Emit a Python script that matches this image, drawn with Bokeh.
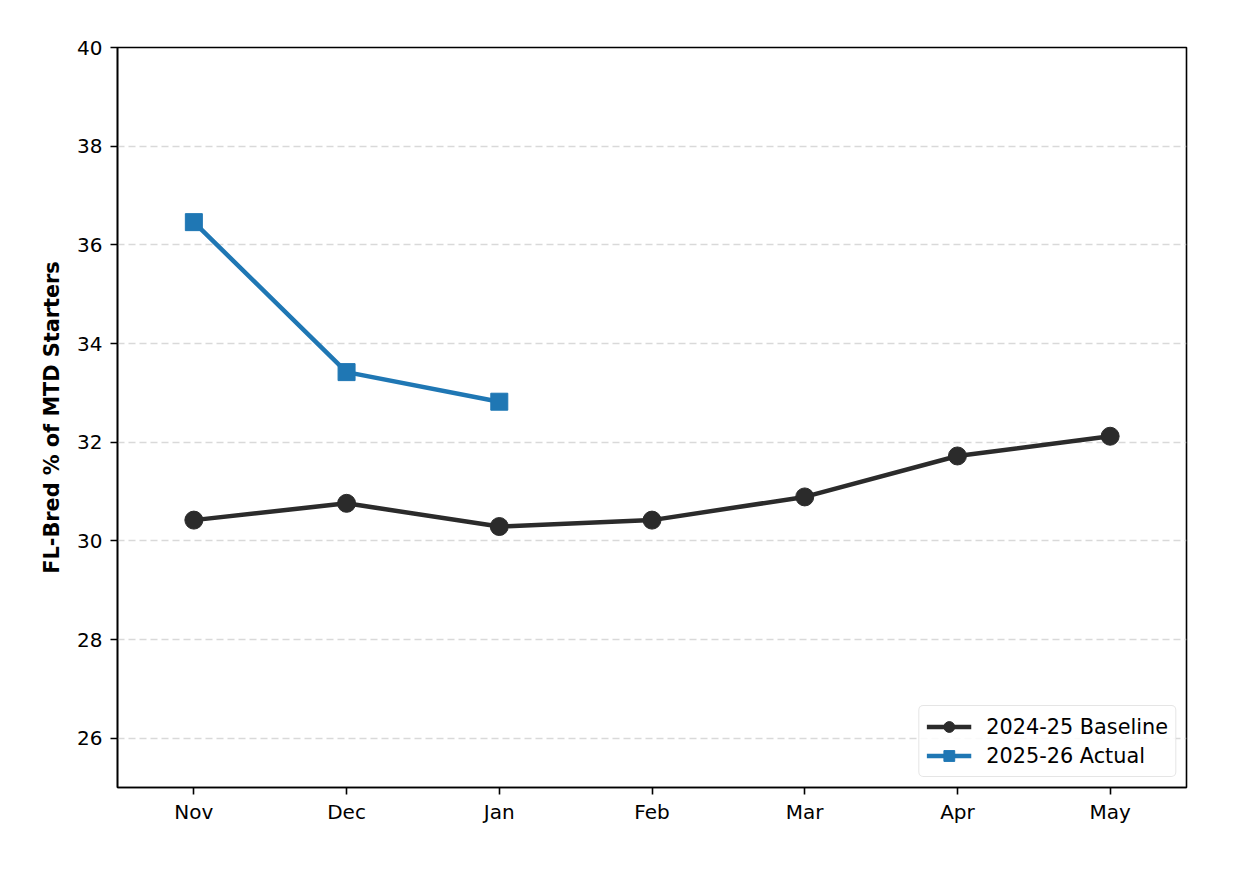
from bokeh.plotting import figure
from bokeh.models import FixedTicker, Legend, LegendItem, Range1d
from bokeh.embed import file_html
from bokeh.resources import INLINE

months = ["Nov", "Dec", "Jan", "Feb", "Mar", "Apr", "May"]
baseline = [30.42, 30.76, 30.29, 30.42, 30.89, 31.72, 32.12]
actual_months = ["Nov", "Dec", "Jan"]
actual = [36.46, 33.42, 32.82]
yticks = [26, 28, 30, 32, 34, 36, 38, 40]

xb = [months.index(m) for m in months]
xa = [months.index(m) for m in actual_months]

FONT = "DejaVu Sans"
BLACK = "#2b2b2b"
BLUE = "#1f77b4"

p = figure(width=1229, height=861, output_backend="svg", toolbar_location=None,
           x_range=Range1d(-0.5, 6.5), y_range=Range1d(25, 40),
           min_border_left=117, min_border_right=43, min_border_top=47, min_border_bottom=74)

p.outline_line_color = "black"
p.outline_line_width = 1.6
p.background_fill_color = "white"
p.border_fill_color = "white"

p.xgrid.grid_line_color = None
p.ygrid.grid_line_color = "#d0d0d0"
p.ygrid.grid_line_alpha = 0.8
p.ygrid.grid_line_dash = "7 4"
p.ygrid.grid_line_width = 1.3

p.xaxis.ticker = FixedTicker(ticks=xb)
p.xaxis.major_label_overrides = {i: m for i, m in enumerate(months)}
p.yaxis.ticker = FixedTicker(ticks=yticks)
for ax in (p.xaxis, p.yaxis):
    ax.axis_line_color = "black"
    ax.axis_line_width = 1.6
    ax.major_tick_line_color = "black"
    ax.major_tick_line_width = 1.6
    ax.major_tick_out = 7
    ax.major_tick_in = 0
    ax.minor_tick_line_color = None
    ax.major_label_text_font = FONT
    ax.major_label_text_font_size = "20px"
    ax.major_label_text_color = "black"
p.xaxis.major_label_standoff = 5
p.yaxis.major_label_standoff = 8

p.yaxis.axis_label = "FL-Bred % of MTD Starters"
p.yaxis.axis_label_text_font = FONT
p.yaxis.axis_label_text_font_size = "20.8px"
p.yaxis.axis_label_text_font_style = "bold"
p.yaxis.axis_label_text_color = "black"
p.yaxis.axis_label_standoff = 10

l1 = p.line(xb, baseline, line_color=BLACK, line_width=4.5)
s1 = p.scatter(xb, baseline, marker="circle", size=18, fill_color=BLACK, line_color=BLACK)
l2 = p.line(xa, actual, line_color=BLUE, line_width=4.5)
s2 = p.scatter(xa, actual, marker="square", size=17, fill_color=BLUE, line_color=BLUE)

legend = Legend(items=[LegendItem(label="2024-25 Baseline", renderers=[l1, s1]),
                       LegendItem(label="2025-26 Actual", renderers=[l2, s2])],
                location="bottom_right")
legend.label_text_font = FONT
legend.label_text_font_size = "20.8px"
legend.label_text_color = "black"
legend.border_line_color = "#cccccc"
legend.border_line_width = 1.5
legend.border_radius = 5
legend.glyph_width = 45
legend.glyph_height = 27
legend.label_height = 27
legend.spacing = 2
legend.padding = 7
legend.margin = 10
legend.label_standoff = 15
legend.background_fill_alpha = 0.85
p.add_layout(legend)

open("out.html", "w").write(file_html(p, INLINE))
